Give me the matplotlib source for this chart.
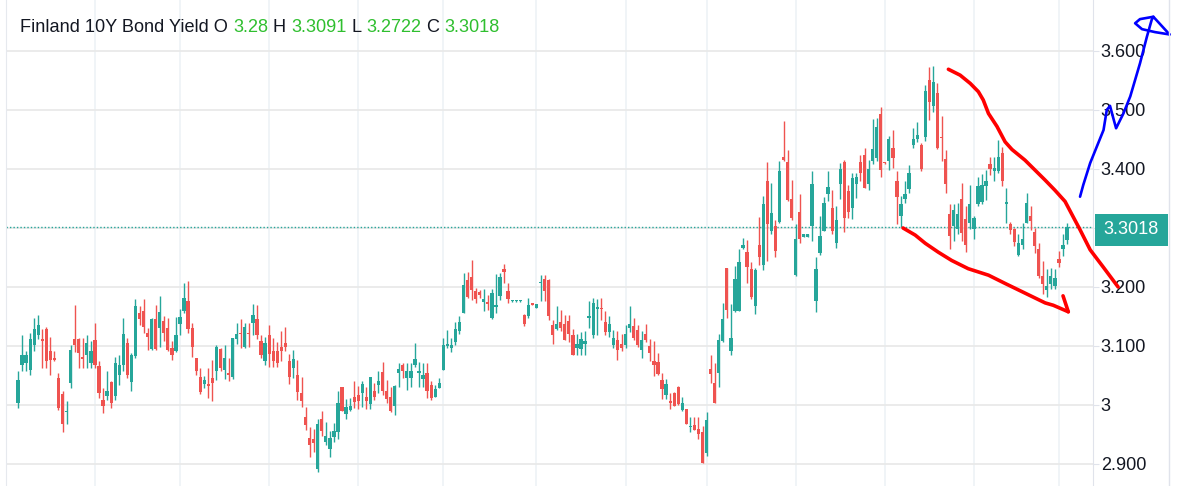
import matplotlib
matplotlib.use("Agg")
import matplotlib.pyplot as plt
import matplotlib.transforms as mtransforms
from matplotlib.lines import Line2D
from matplotlib.patches import Rectangle
import numpy as np

plt.rcParams['font.family'] = 'Liberation Sans'

# daily OHLC
opens = [
    3.003, 3.067, 3.071, 3.060, 3.101, 3.119, 3.111, 3.128, 3.092, 3.080,
    3.046, 3.018, 2.988, 3.037, 3.112, 3.112, 3.081, 3.085, 3.071, 3.110,
    3.066, 3.009, 3.015, 3.039, 3.016, 3.051, 3.068, 3.105, 3.039, 3.083,
    3.156, 3.160, 3.122, 3.095, 3.146, 3.131, 3.142, 3.131, 3.097, 3.092,
    3.137, 3.160, 3.177, 3.131, 3.079, 3.047, 3.035, 3.036, 3.045, 3.057,
    3.095, 3.060, 3.054, 3.048, 3.111, 3.122, 3.099, 3.122, 3.139, 3.146,
    3.109, 3.075, 3.119, 3.092, 3.091, 3.098, 3.105, 3.074, 3.062, 3.051,
    3.021, 2.979, 2.944, 2.943, 2.892, 2.977, 2.937, 2.925, 2.946, 2.955,
    3.030, 2.984, 2.991, 3.013, 3.017, 3.020, 3.014, 3.001, 3.023, 3.034,
    3.056, 3.024, 3.014, 2.999, 3.054, 3.068, 3.046, 3.046, 3.068, 3.055,
    3.044, 3.054, 3.034, 3.014, 3.029, 3.059, 3.100, 3.096, 3.107, 3.125,
    3.156, 3.212, 3.217, 3.194, 3.191, 3.174, 3.173, 3.147, 3.166, 3.184,
    3.231, 3.193, 3.176, 3.176, 3.176, 3.153, 3.150, 3.171, 3.165, 3.206,
    3.214, 3.211, 3.136, 3.129, 3.141, 3.138, 3.142, 3.119, 3.097, 3.095,
    3.103, 3.148, 3.119, 3.163, 3.163, 3.141, 3.123, 3.101, 3.110, 3.104,
    3.101, 3.131, 3.134, 3.127, 3.094, 3.120, 3.100, 3.075, 3.073, 3.043,
    3.017, 3.007, 3.021, 3.031, 2.992, 2.994, 2.962, 2.966, 2.960, 2.955,
    2.919, 3.061, 3.037, 3.054, 3.108, 3.232, 3.092, 3.159, 3.159, 3.266,
    3.259, 3.231, 3.168, 3.272, 3.237, 3.379, 3.295, 3.303, 3.310, 3.420,
    3.411, 3.349, 3.221, 3.327, 3.285, 3.285, 3.303, 3.176, 3.257, 3.295,
    3.357, 3.334, 3.275, 3.374, 3.411, 3.363, 3.334, 3.375, 3.411, 3.424,
    3.375, 3.413, 3.418, 3.493, 3.412, 3.413, 3.435, 3.379, 3.320, 3.349,
    3.366, 3.441, 3.450, 3.441, 3.454, 3.550, 3.506, 3.529, 3.454, 3.417,
    3.324, 3.304, 3.299, 3.349, 3.315, 3.309, 3.299, 3.341, 3.344, 3.372,
    3.409, 3.396, 3.396, 3.427, 3.340, 3.306, 3.299, 3.255, 3.272, 3.309,
    3.320, 3.293, 3.264, 3.219, 3.195, 3.205, 3.202, 3.247, 3.264, 3.28,
]
highs = [
    3.057, 3.119, 3.091, 3.122, 3.147, 3.153, 3.128, 3.133, 3.116, 3.091,
    3.054, 3.023, 3.007, 3.102, 3.170, 3.114, 3.114, 3.118, 3.108, 3.139,
    3.074, 3.029, 3.057, 3.040, 3.082, 3.085, 3.147, 3.114, 3.088, 3.180,
    3.167, 3.179, 3.131, 3.147, 3.170, 3.184, 3.150, 3.147, 3.108, 3.149,
    3.162, 3.207, 3.210, 3.139, 3.080, 3.063, 3.049, 3.063, 3.077, 3.101,
    3.097, 3.101, 3.080, 3.114, 3.139, 3.145, 3.139, 3.139, 3.172, 3.170,
    3.119, 3.116, 3.136, 3.114, 3.107, 3.126, 3.132, 3.086, 3.094, 3.077,
    3.048, 2.996, 2.963, 2.960, 2.976, 2.990, 2.972, 2.956, 2.969, 3.023,
    3.030, 3.010, 3.011, 3.040, 3.033, 3.040, 3.031, 3.048, 3.037, 3.058,
    3.073, 3.043, 3.030, 3.034, 3.072, 3.071, 3.072, 3.071, 3.105, 3.073,
    3.072, 3.071, 3.040, 3.034, 3.046, 3.113, 3.127, 3.113, 3.140, 3.151,
    3.223, 3.226, 3.245, 3.199, 3.195, 3.197, 3.187, 3.197, 3.222, 3.224,
    3.239, 3.207, 3.178, 3.178, 3.178, 3.154, 3.181, 3.171, 3.172, 3.221,
    3.221, 3.214, 3.144, 3.167, 3.161, 3.153, 3.153, 3.129, 3.120, 3.124,
    3.125, 3.177, 3.181, 3.179, 3.182, 3.160, 3.150, 3.127, 3.125, 3.120,
    3.136, 3.167, 3.147, 3.136, 3.125, 3.137, 3.111, 3.108, 3.088, 3.055,
    3.044, 3.021, 3.022, 3.033, 3.013, 2.994, 2.979, 2.979, 2.979, 2.965,
    2.988, 3.084, 3.072, 3.120, 3.173, 3.232, 3.171, 3.236, 3.265, 3.283,
    3.279, 3.242, 3.233, 3.319, 3.355, 3.411, 3.376, 3.314, 3.413, 3.481,
    3.433, 3.381, 3.306, 3.357, 3.290, 3.290, 3.396, 3.250, 3.321, 3.353,
    3.396, 3.364, 3.337, 3.410, 3.416, 3.373, 3.393, 3.394, 3.424, 3.435,
    3.416, 3.484, 3.486, 3.505, 3.412, 3.456, 3.466, 3.396, 3.355, 3.379,
    3.407, 3.469, 3.480, 3.444, 3.542, 3.573, 3.574, 3.546, 3.489, 3.432,
    3.340, 3.340, 3.343, 3.377, 3.337, 3.373, 3.321, 3.386, 3.392, 3.399,
    3.421, 3.421, 3.449, 3.437, 3.368, 3.310, 3.300, 3.289, 3.309, 3.359,
    3.337, 3.300, 3.275, 3.244, 3.231, 3.233, 3.231, 3.261, 3.289, 3.3091,
]
lows = [
    2.995, 3.057, 3.057, 3.051, 3.091, 3.111, 3.063, 3.063, 3.051, 3.074,
    2.992, 2.955, 2.968, 3.029, 3.090, 3.063, 3.063, 3.063, 3.063, 3.063,
    3.012, 2.986, 3.009, 2.995, 3.009, 3.034, 3.057, 3.046, 3.023, 3.080,
    3.136, 3.122, 3.094, 3.094, 3.094, 3.099, 3.108, 3.091, 3.077, 3.090,
    3.119, 3.156, 3.122, 3.082, 3.051, 3.019, 3.029, 3.012, 3.007, 3.043,
    3.057, 3.044, 3.040, 3.044, 3.103, 3.097, 3.097, 3.098, 3.119, 3.111,
    3.080, 3.068, 3.065, 3.065, 3.064, 3.075, 3.091, 3.035, 3.045, 3.009,
    2.997, 2.957, 2.912, 2.920, 2.887, 2.948, 2.932, 2.912, 2.938, 2.942,
    2.990, 2.976, 2.989, 2.995, 2.994, 2.997, 2.994, 2.994, 3.009, 3.020,
    3.017, 3.003, 2.988, 2.983, 3.031, 3.045, 3.026, 3.031, 3.065, 3.030,
    3.030, 3.011, 3.008, 3.014, 3.029, 3.059, 3.097, 3.090, 3.102, 3.121,
    3.156, 3.181, 3.178, 3.173, 3.181, 3.160, 3.161, 3.146, 3.156, 3.178,
    3.207, 3.173, 3.175, 3.175, 3.175, 3.134, 3.147, 3.170, 3.164, 3.176,
    3.176, 3.144, 3.103, 3.127, 3.125, 3.110, 3.106, 3.084, 3.084, 3.085,
    3.084, 3.130, 3.113, 3.119, 3.144, 3.118, 3.116, 3.096, 3.076, 3.091,
    3.096, 3.124, 3.110, 3.099, 3.079, 3.107, 3.075, 3.049, 3.051, 3.010,
    3.010, 2.994, 2.998, 3.000, 2.989, 2.968, 2.954, 2.957, 2.942, 2.901,
    2.913, 3.038, 3.004, 3.030, 3.106, 3.148, 3.085, 3.157, 3.159, 3.264,
    3.206, 3.179, 3.154, 3.237, 3.228, 3.244, 3.289, 3.250, 3.309, 3.413,
    3.345, 3.314, 3.219, 3.275, 3.284, 3.284, 3.278, 3.158, 3.254, 3.295,
    3.345, 3.289, 3.266, 3.349, 3.293, 3.317, 3.316, 3.351, 3.379, 3.368,
    3.364, 3.409, 3.413, 3.386, 3.409, 3.399, 3.401, 3.306, 3.302, 3.342,
    3.359, 3.435, 3.445, 3.397, 3.447, 3.483, 3.497, 3.434, 3.413, 3.360,
    3.264, 3.278, 3.289, 3.278, 3.259, 3.299, 3.281, 3.338, 3.341, 3.348,
    3.390, 3.379, 3.393, 3.372, 3.309, 3.289, 3.269, 3.252, 3.265, 3.308,
    3.296, 3.257, 3.216, 3.188, 3.183, 3.196, 3.197, 3.234, 3.252, 3.2722,
]
closes = [
    3.043, 3.085, 3.084, 3.111, 3.128, 3.135, 3.108, 3.075, 3.077, 3.077,
    2.995, 2.967, 2.990, 3.094, 3.101, 3.088, 3.078, 3.105, 3.092, 3.068,
    3.020, 2.998, 3.024, 3.003, 3.071, 3.068, 3.120, 3.051, 3.085, 3.167,
    3.146, 3.132, 3.116, 3.145, 3.095, 3.158, 3.122, 3.094, 3.084, 3.119,
    3.149, 3.181, 3.128, 3.099, 3.058, 3.022, 3.042, 3.032, 3.037, 3.099,
    3.063, 3.080, 3.051, 3.113, 3.120, 3.120, 3.132, 3.120, 3.153, 3.119,
    3.085, 3.105, 3.086, 3.075, 3.071, 3.091, 3.099, 3.048, 3.078, 3.022,
    3.006, 2.966, 2.932, 2.936, 2.967, 2.956, 2.947, 2.944, 2.956, 3.003,
    2.990, 2.997, 2.999, 3.005, 3.006, 3.035, 3.007, 3.047, 3.014, 3.041,
    3.023, 3.010, 2.989, 3.032, 3.061, 3.057, 3.058, 3.058, 3.078, 3.058,
    3.050, 3.023, 3.012, 3.027, 3.037, 3.102, 3.103, 3.101, 3.129, 3.140,
    3.203, 3.183, 3.195, 3.180, 3.186, 3.180, 3.172, 3.190, 3.170, 3.217,
    3.226, 3.180, 3.177, 3.177, 3.177, 3.138, 3.170, 3.170, 3.171, 3.209,
    3.193, 3.150, 3.119, 3.138, 3.130, 3.110, 3.120, 3.084, 3.103, 3.112,
    3.108, 3.150, 3.173, 3.166, 3.162, 3.124, 3.138, 3.113, 3.093, 3.096,
    3.120, 3.138, 3.113, 3.101, 3.110, 3.110, 3.088, 3.067, 3.052, 3.027,
    3.035, 3.004, 2.999, 3.002, 3.003, 2.968, 2.965, 2.958, 2.951, 2.901,
    2.974, 3.052, 3.004, 3.110, 3.146, 3.161, 3.113, 3.214, 3.242, 3.272,
    3.234, 3.183, 3.229, 3.251, 3.340, 3.306, 3.326, 3.261, 3.396, 3.416,
    3.348, 3.317, 3.281, 3.281, 3.289, 3.289, 3.374, 3.231, 3.286, 3.343,
    3.370, 3.295, 3.314, 3.400, 3.317, 3.327, 3.385, 3.387, 3.394, 3.368,
    3.400, 3.434, 3.472, 3.399, 3.410, 3.450, 3.418, 3.352, 3.340, 3.357,
    3.393, 3.450, 3.458, 3.400, 3.533, 3.514, 3.548, 3.435, 3.452, 3.375,
    3.286, 3.330, 3.324, 3.292, 3.272, 3.340, 3.317, 3.372, 3.373, 3.379,
    3.400, 3.402, 3.421, 3.379, 3.344, 3.297, 3.276, 3.274, 3.282, 3.342,
    3.311, 3.270, 3.219, 3.205, 3.202, 3.219, 3.216, 3.240, 3.272, 3.3018,
]

# candle index where each month starts (vertical grid)
month_starts = [19, 40, 62, 84, 105, 128, 150, 170, 192, 214, 236, 257]

price_ticks = [2.9, 3.0, 3.1, 3.2, 3.3, 3.4, 3.5, 3.6]
price_labels = ['2.900', '3', '3.100', '3.200', '', '3.400', '3.500', '3.600']

# hand drawn marks (candle index, yield)
upper_red_x = [229.7, 232.6, 235.1, 237.1, 238.3, 239.6, 241.7, 243.7, 245.4, 248.6,
               251.1, 253.6, 256.0, 258.5, 260.5, 262.2, 264.7, 267.9, 271.6]
upper_red_y = [3.569, 3.559, 3.545, 3.531, 3.517, 3.494, 3.472, 3.446, 3.433, 3.415,
               3.398, 3.381, 3.364, 3.345, 3.319, 3.297, 3.263, 3.234, 3.200]
lower_red_x = [218.5, 221.5, 224.0, 227.2, 230.5, 234.6, 239.6, 243.7, 247.0, 250.3,
               253.6, 255.6, 259.3]
lower_red_y = [3.300, 3.288, 3.274, 3.259, 3.245, 3.231, 3.220, 3.206, 3.195, 3.184,
               3.173, 3.169, 3.158]
hook_x = [258.0, 259.3]
hook_y = [3.185, 3.158]
blue_x = [262.2, 263.0, 264.7, 266.7, 268.0, 268.8, 269.6, 270.3, 271.1, 272.9,
          274.6, 277.0, 278.7, 279.9, 280.3, 284.3]
blue_y = [3.353, 3.373, 3.410, 3.444, 3.466, 3.500, 3.507, 3.489, 3.469, 3.494,
          3.523, 3.579, 3.624, 3.653, 3.658, 3.628]
loop_x = [280.3, 277.0, 275.8, 277.5, 280.7, 284.3]
loop_y = [3.658, 3.654, 3.647, 3.637, 3.632, 3.628]

UP = '#26a69a'
DOWN = '#ef5350'
TXT = '#131722'
GREEN_TXT = '#2fbf2f'
FS = 13.1

W, H = 1181, 486
fig = plt.figure(figsize=(W / 100, H / 100), dpi=100)
ax = fig.add_axes([6 / W, 0, 1087 / W, 1])

o = np.array(opens)
h = np.array(highs)
l = np.array(lows)
c = np.array(closes)
idx = np.arange(len(c))
cols = np.where(c >= o, UP, DOWN)

ax.vlines(idx, l, h, colors=cols, linewidths=1.0, zorder=3)
body = np.maximum(np.abs(c - o), 0.0024)
ax.bar(idx, body, bottom=np.minimum(o, c), width=0.8, color=cols, linewidth=0, zorder=4)

# last price dotted line
ax.axhline(c[-1], color=UP, lw=1, ls=(0, (1, 1.5)), zorder=2)

ax.set_xlim(-2.96, 265.4)
ax.set_ylim(2.8627, 3.6864)

ax.set_xticks(month_starts)
ax.set_xticklabels([])
ax.set_yticks(price_ticks)
ax.set_yticklabels(price_labels)
ax.yaxis.tick_right()
ax.tick_params(axis='x', length=0)
ax.tick_params(axis='y', length=4.5, color='#e0e3eb', labelsize=FS, labelcolor=TXT, pad=1)
ax.grid(axis='y', color='#e8e8e8', lw=1.2, zorder=0)
ax.grid(axis='x', color='#eef2f6', lw=1.2, zorder=0)
for s in ['top', 'bottom']:
    ax.spines[s].set_visible(False)
ax.spines['left'].set_color('#e6e9ee')
ax.spines['right'].set_color('#e0e3eb')

# hand drawn annotations
for xs, ys in [(upper_red_x, upper_red_y), (lower_red_x, lower_red_y), (hook_x, hook_y)]:
    ax.plot(xs, ys, color='#ff0000', lw=2.6, clip_on=False,
            solid_capstyle='round', solid_joinstyle='round', zorder=6)
for xs, ys in [(blue_x, blue_y), (loop_x, loop_y)]:
    ax.plot(xs, ys, color='#0000ff', lw=1.9, clip_on=False,
            solid_capstyle='round', solid_joinstyle='round', zorder=6)

# price scale outer border
fig.add_artist(Line2D([1169 / W, 1169 / W], [0, 1], transform=fig.transFigure,
                      color='#e0e3eb', lw=1))

# last price label on the scale
trans = mtransforms.blended_transform_factory(ax.transAxes, ax.transData)
box_h = 0.054
ax.add_patch(Rectangle((1.0018, c[-1] - 0.005 - box_h / 2), 0.0672, box_h, transform=trans,
                       facecolor=UP, edgecolor='none', clip_on=False, zorder=7))
ax.text(1.0018 + 0.0336, c[-1] - 0.005, '{:g}'.format(c[-1]), transform=trans,
        ha='center', va='center', color='white', fontsize=FS, clip_on=False, zorder=8)

# header with OHLC of last bar
parts = [("Finland 10Y Bond Yield O", TXT), ('{:g}'.format(o[-1]), GREEN_TXT),
         ("H", TXT), ('{:g}'.format(h[-1]), GREEN_TXT),
         ("L", TXT), ('{:g}'.format(l[-1]), GREEN_TXT),
         ("C", TXT), ('{:g}'.format(c[-1]), GREEN_TXT)]
r = fig.canvas.get_renderer()
probe1 = fig.text(0, 0, "x x", fontsize=FS)
probe2 = fig.text(0, 0, "xx", fontsize=FS)
space = probe1.get_window_extent(r).width - probe2.get_window_extent(r).width
probe1.remove()
probe2.remove()
xpos = 20
for txt, col in parts:
    t = fig.text(xpos / W, 1 - 27 / H, txt, color=col, fontsize=FS, va='center', ha='left')
    xpos = t.get_window_extent(r).x1 + space

fig.savefig('out.png', dpi=100)
